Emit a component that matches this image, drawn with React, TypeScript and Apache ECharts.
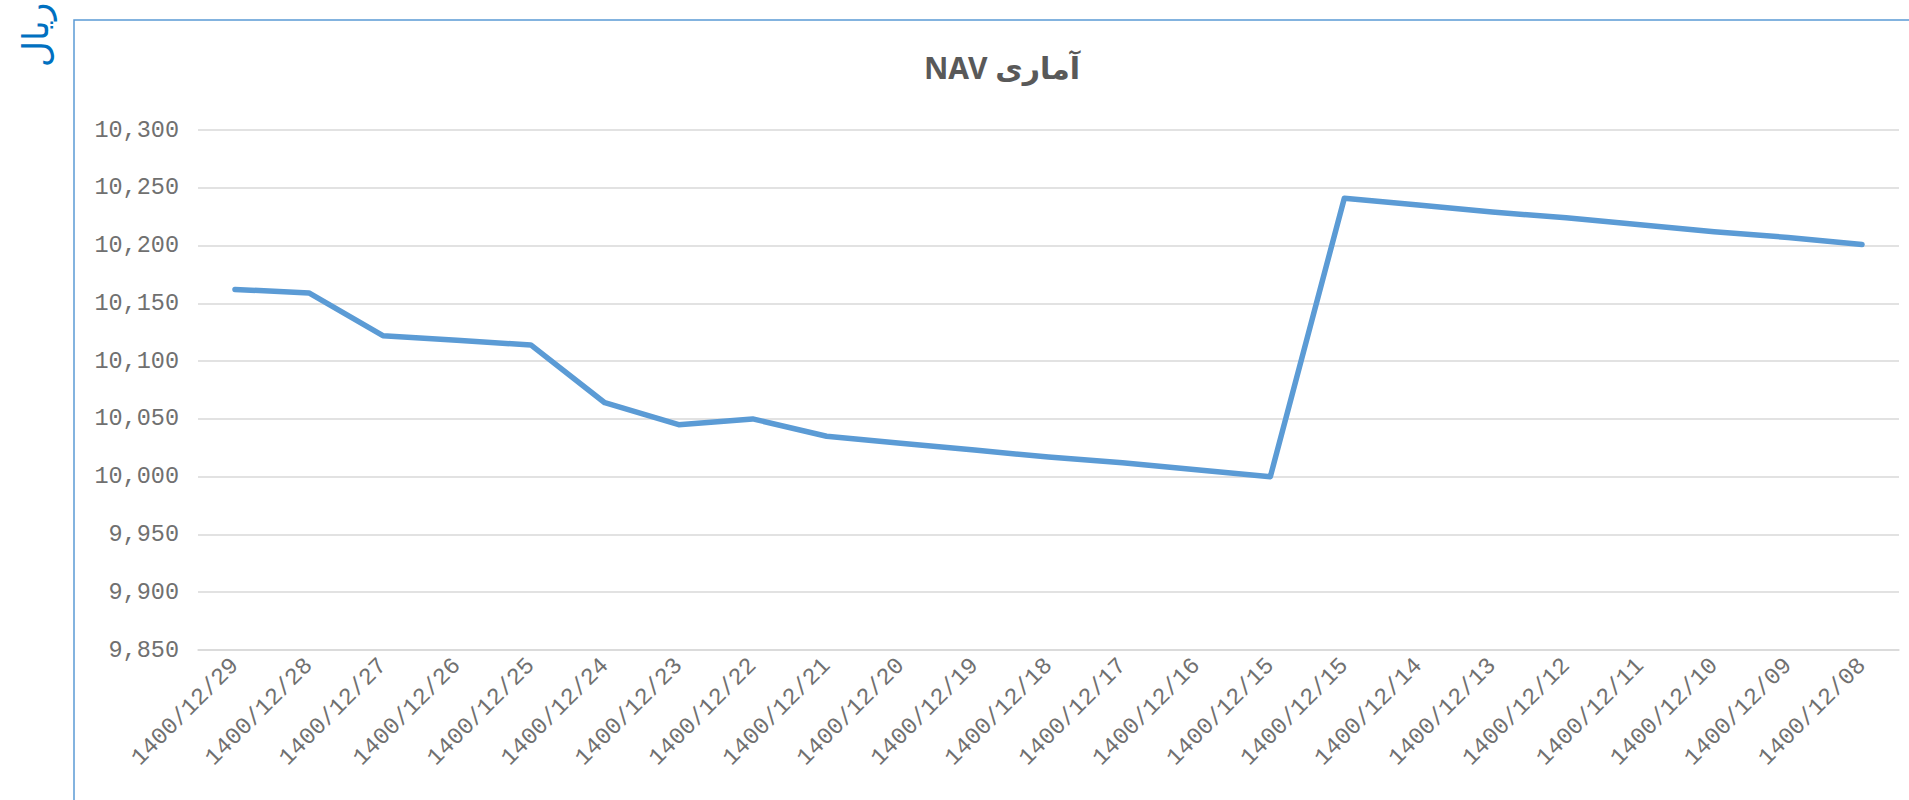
import React, { useEffect, useRef } from "react";
import * as echarts from "echarts";

const categories: string[] = [
  "1400/12/29", "1400/12/28", "1400/12/27", "1400/12/26", "1400/12/25", "1400/12/24",
  "1400/12/23", "1400/12/22", "1400/12/21", "1400/12/20", "1400/12/19", "1400/12/18",
  "1400/12/17", "1400/12/16", "1400/12/15", "1400/12/15", "1400/12/14", "1400/12/13",
  "1400/12/12", "1400/12/11", "1400/12/10", "1400/12/09", "1400/12/08",
];

const navValues: number[] = [
  10162, 10159, 10122, 10118, 10114, 10064,
  10045, 10050, 10035, 10029, 10023, 10017,
  10012, 10006, 10000, 10241, 10235, 10229,
  10224, 10218, 10212, 10207, 10201,
];

const yMin = 9850;
const yMax = 10300;
const yStep = 50;

const titleText = "NAV آماری";
const unitText = "ریال";

export default function App() {
  const ref = useRef<HTMLDivElement>(null);

  useEffect(() => {
    if (!ref.current) return;
    const chart = echarts.init(ref.current, undefined, { renderer: "svg" });
    chart.setOption({
      animation: false,
      backgroundColor: "#ffffff",
      grid: { left: 198, right: 10, top: 130, bottom: 150, containLabel: false },
      xAxis: {
        type: "category",
        data: categories,
        boundaryGap: true,
        axisLine: { show: true, lineStyle: { color: "#D9D9D9", width: 1.5 } },
        axisTick: { show: false },
        axisLabel: {
          interval: 0,
          rotate: 45,
          margin: 12,
          color: "#707070",
          fontFamily: "'Liberation Mono', 'DejaVu Sans Mono', monospace",
          fontSize: 23.5,
        },
        splitLine: { show: false },
      },
      yAxis: {
        type: "value",
        min: yMin,
        max: yMax,
        interval: yStep,
        axisLine: { show: false },
        axisTick: { show: false },
        axisLabel: {
          margin: 19,
          color: "#707070",
          fontFamily: "'Liberation Mono', 'DejaVu Sans Mono', monospace",
          fontSize: 23.5,
          formatter: (v: number) => v.toLocaleString("en-US"),
        },
        splitLine: { show: true, lineStyle: { color: "#D9D9D9", width: 1.5 } },
      },
      series: [
        {
          type: "line",
          data: navValues,
          showSymbol: false,
          symbol: "none",
          lineStyle: { color: "#5B9BD5", width: 5.5, cap: "round", join: "round" },
          itemStyle: { color: "#5B9BD5" },
        },
      ],
      graphic: [
        {
          type: "rect",
          shape: { x: 74, y: 20, width: 1900, height: 900 },
          style: { fill: "none", stroke: "#5B9BD5", lineWidth: 1.5 },
          silent: true,
        },
        {
          type: "text",
          x: 1002,
          y: 67,
          style: {
            text: titleText,
            fill: "#595959",
            font: "bold 30px 'Noto Sans', 'DejaVu Sans', sans-serif",
            textAlign: "center",
            textVerticalAlign: "middle",
          },
        },
        {
          type: "text",
          x: 35,
          y: 35,
          rotation: Math.PI / 2,
          style: {
            text: unitText,
            fill: "#0070C0",
            font: "36px 'DejaVu Sans', sans-serif",
            textAlign: "center",
            textVerticalAlign: "middle",
          },
        },
      ],
    });
    return () => chart.dispose();
  }, []);

  return (
    <div
      ref={ref}
      style={{ position: "absolute", left: 0, top: 0, width: "1909px", height: "800px" }}
    />
  );
}
